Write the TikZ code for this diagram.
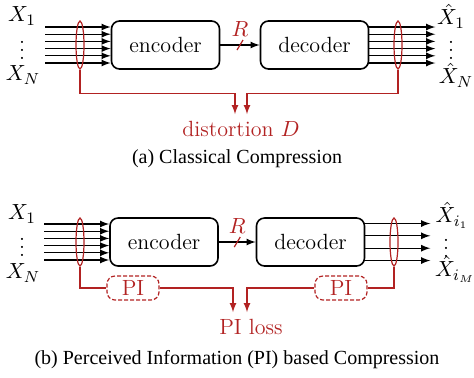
\documentclass[tikz,border=0pt]{standalone}
\usepackage{amsmath}
\usepackage{fontspec}
\newfontfamily\capfont{Liberation Serif}
\usetikzlibrary{shapes.geometric}
\definecolor{lossred}{RGB}{178,34,34}

\begin{document}
\begin{tikzpicture}[x=0.5pt, y=-0.5pt,
        font=\fontsize{11}{13}\selectfont,
        block/.style={draw, thick, rounded corners=4pt, minimum width=54pt, minimum height=24pt, inner sep=0pt},
        piblock/.style={draw=lossred, text=lossred, semithick, dash pattern=on 2pt off 1pt, rounded corners=4pt, minimum width=26pt, minimum height=12pt, inner sep=0pt},
        bundle/.style={draw=lossred, semithick, ellipse, minimum width=4pt, minimum height=24pt, inner sep=0pt},
        port/.style={inner sep=0.5pt},
        feed/.style={draw=lossred, semithick},
        caption/.style={font=\capfont\fontsize{10}{12}\selectfont},
        >=latex % Pfeilspitzen
        ]
    \useasboundingbox (0,0) rectangle (474,377);

    % (a) Bloecke
    \node[block] (encA) at (165.5,45) {encoder};
    \node[block] (decA) at (314.5,45) {decoder};

    % (a) Ein- und Ausgaenge
    \node[port] (xA1) at (22,16) {$X_1$};
    \node[port] (xAd) at (22,44) {$\vdots$};
    \node[port] (xAN) at (23,75) {$X_N$};
    \node[port] (yA1) at (451,16) {$\hat{X}_1$};
    \node[port] (yAd) at (451,44) {$\vdots$};
    \node[port] (yAN) at (456,75) {$\hat{X}_N$};
    \foreach \d in {-18,-10.8,-3.6,3.6,10.8,18}{
        \draw[semithick,<-] ([yshift=\d*0.5pt]encA.west) -- ++(-66,0);
        \draw[semithick,->] ([yshift=\d*0.5pt]decA.east) -- ++(66,0);
    }
    \node[bundle] (eA1) at (80,45) {};
    \node[bundle] (eA2) at (398,45) {};

    % (a) Rate
    \draw[semithick,->] (encA) -- coordinate[midway] (rA) (decA);
    \draw[lossred,semithick] ([shift={(-1.5pt,-2.5pt)}]rA) -- ([shift={(1.5pt,2.5pt)}]rA);
    \node[lossred] (rlabA) at ([yshift=8pt]rA) {$R$};

    % (a) Rueckfuehrung
    \node[lossred] (distA) at (241,129) {distortion $D$};
    \draw[feed,->] (eA1.south) -- ++(0,24) -| ([xshift=-3pt]distA.north);
    \draw[feed,->] (eA2.south) -- ++(0,24) -| ([xshift=3pt]distA.north);

    \node[caption] (capA) at (237,159) {(a) Classical Compression};

    % (b) Bloecke
    \node[block] (encB) at (164,242) {encoder};
    \node[block] (decB) at (310.5,242) {decoder};

    % (b) Ein- und Ausgaenge
    \node[port] (xB1) at (22,214) {$X_1$};
    \node[port] (xBd) at (22,241) {$\vdots$};
    \node[port] (xBN) at (23,273) {$X_N$};
    \node[port] (yB1) at (452,215) {$\hat{X}_{i_1}$};
    \node[port] (yBd) at (446,242) {$\vdots$};
    \node[port] (yBN) at (455,269) {$\hat{X}_{i_M}$};
    \foreach \d in {-18,-10.8,-3.6,3.6,10.8,18}
        \draw[semithick,<-] ([yshift=\d*0.5pt]encB.west) -- ++(-65,0);
    \foreach \d in {-18.5,-6.2,6.2,18.5}
        \draw[semithick,->] ([yshift=\d*0.5pt]decB.east) -- ++(65,0);
    \node[bundle] (eB1) at (80,242) {};
    \node[bundle] (eB2) at (394,242) {};

    % (b) Rate
    \draw[semithick,->] (encB) -- coordinate[midway] (rB) (decB);
    \draw[lossred,semithick] ([shift={(-1.5pt,-2.5pt)}]rB) -- ([shift={(1.5pt,2.5pt)}]rB);
    \node[lossred] (rlabB) at ([yshift=8pt]rB) {$R$};

    % (b) Rueckfuehrung
    \node[piblock] (piL) at (133,288) {PI};
    \node[piblock] (piR) at (341,288) {PI};
    \node[lossred] (lossB) at (251,327) {PI loss};
    \draw[feed] (eB1.south) |- (piL.west);
    \draw[feed,->] (piL.east) -| ([xshift=-9pt]lossB.north);
    \draw[feed] (eB2.south) |- (piR.east);
    \draw[feed,->] (piR.west) -| ([xshift=-2pt]lossB.north);

    \node[caption] (capB) at (237,360) {(b) Perceived Information (PI) based Compression};
\end{tikzpicture}
\end{document}
